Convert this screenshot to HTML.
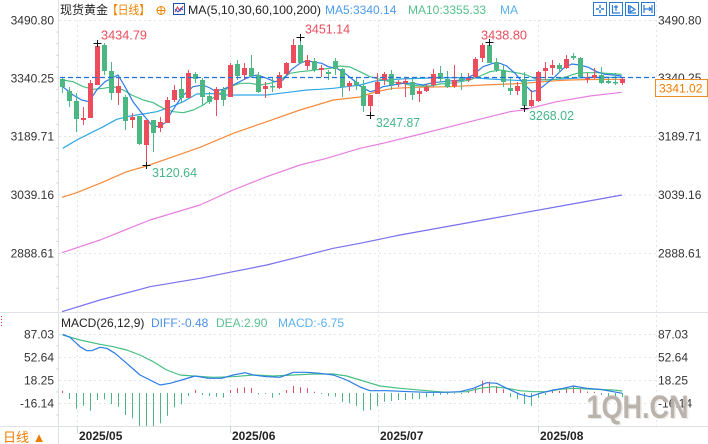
<!DOCTYPE html>
<html><head><meta charset="utf-8"><style>
html,body{margin:0;padding:0;background:#fff;width:708px;height:444px;overflow:hidden}
svg{display:block}
text{font-family:"Liberation Sans","Noto Sans CJK SC",sans-serif}
</style></head><body>
<svg width="708" height="444" viewBox="0 0 708 444" xmlns="http://www.w3.org/2000/svg">
<rect width="708" height="444" fill="#fff"/>
<!-- grid -->
<g stroke="#e2e5ea" stroke-width="1" stroke-dasharray="2,3" fill="none">
<path d="M59 20.5H656M59 136.5H656M59 195H656M59 253.5H656"/>
<path d="M59 334.5H656M59 357.5H656M59 380.5H656M59 403.5H656"/>
<path d="M77.5 20V426M230.5 20V426M378.5 20V426M538.5 20V426"/>
<path d="M656.5 0V426"/>
</g>
<path d="M58.5 0V444M0 312.5H708M0 426.5H708" stroke="#dfe3e8" stroke-width="1"/>
<path d="M77.5 426V433M230.5 426V433M378.5 426V433M538.5 426V433" stroke="#cfd4da"/>
<g stroke="#d5d9de">
<path d="M56 32.1H59M56 43.7H59M56 55.3H59M56 66.9H59M56 89.6H59M56 101.2H59M56 112.8H59M56 124.4H59M56 148.1H59M56 159.7H59M56 171.3H59M56 182.9H59M56 206.6H59M56 218.2H59M56 229.8H59M56 241.4H59M56 265H59M56 276.6H59M56 288.2H59M56 299.8H59"/>
<path d="M56 345.9H59M56 368.9H59M56 391.9H59M56 414.9H59"/>
</g>
<path d="M1.5 316V326" stroke="#e03030" stroke-dasharray="1,2"/>

<!-- moving averages -->
<g fill="none" stroke-width="1.2" stroke-linejoin="round">
<polyline stroke="#7a70f0" points="62,311.7 100,300 150,286.7 200,278.3 233,271.7 266.7,265 300,256.7 333.3,248.3 360,243.3 400,235 450,226 500,217 550,208 600,199 622,195"/>
<polyline stroke="#e77fde" points="62,252.7 100,240 150,220 200,205 233,190 266.7,176.7 300,165 326.7,158.3 360,148.3 383,143.3 416.7,135 450,126.7 483.3,118.3 510,111.7 523,110 556.7,101.7 590,96 621.7,92.3"/>
<polyline stroke="#f68a3a" points="62,197.3 76.7,192.7 100,183.3 126.7,171.7 146.7,166 173.3,156.7 200,147.3 233.3,133.3 266.7,121.7 300,110 316.7,105 333.3,100 360,97 375,92 393.3,88.3 416.7,87.3 450,86.7 483.3,85 510,84 523.3,83.3 556.7,80.7 570,80 590,79.5 621.7,79.3"/>
<polyline stroke="#2fa6e6" points="62.7,148.3 76.7,140 90,133.3 103.3,126.7 116.7,119.3 130,116 143.3,114 156.7,111.7 170,107.3 183.3,101.7 196.7,94 213.3,93.5 226.7,95 240,95 253.3,95 266.7,95 280,93.3 293.3,91.7 306.7,90 320,89.3 333.3,88.3 346.7,86.7 360,85 375,81 400,79 430,78 470,77.5 490,79 523,80.7 556.7,79.3 590,77.3 621.7,77.3"/>
<polyline stroke="#45bf82" points="62.7,80 73,81.7 83.3,86.7 93.3,89.3 103.3,88.3 113.3,86.7 123.3,90 131.7,95 143.3,100 153.3,102.7 163.3,108.3 173.3,111.7 183.3,112.7 193.3,110 203.3,105 210,100 220,93.3 230,86.7 240,83.3 250,83.3 260,85 270,83.3 280,80 290,73.3 300,71.7 310,70.7 320,69.3 330,68.3 340,66 350,67 360,71.7 370,76.7 380,79.3 390,81.7 400,82.7 410,85 420,86 430,86 440,84 450,83.3 460,81.7 470,80 480,76 490,71.7 500,70 510,71.7 520,73.3 526.7,75 536.7,79.3 546.7,80 556.7,79.3 566.7,76.7 576.7,73.3 586.7,72.7 596.7,72.7 606.7,73.3 621.7,74.3"/>
<polyline stroke="#2b7be6" points="62.7,86.7 73,95 81.7,100 89,101.7 96.7,90 105,81.7 118,75 125,86.7 133,101.7 141.7,113 151.7,125 158,126.7 165,123 171.7,111.7 181.7,96.7 193,86.7 202.7,85 210,88 215,91 223,89.3 233,85 243,80 251.7,76 258,75 266.7,78.3 275,81.7 283,80 291.7,69.3 300,63.3 306.7,60.7 315,62.3 321.7,63.3 328.3,66.7 336.7,68.3 345,73.3 353.3,80 360,86 370,91.7 376.7,90 383,86.7 393,85 403,83.3 413,83.3 423,85 433,82.7 443,81.7 453,80.7 463,80 473,75 483,66.7 493,63.3 500,63.3 506.7,66 515,73.3 523.3,83.3 531.7,91.7 538.3,90 546.7,83.3 555,76.7 563.3,68.3 571.7,64 580,65 588.3,67.3 596.7,71.7 605,74.3 613.3,75 621.7,76"/>
</g>

<!-- candles -->
<path stroke="#eb4d5c" stroke-width="1" fill="none" d="M83.5 107V125M90.5 80V118M97.5 43V85M118.5 77V105M132.5 113V128M146.5 120V165M160.5 117V132M167.5 97V123M174.5 85V102M188.5 70V98M216.5 87V116M230.5 63V97M244.5 63V80M265.5 82V98M279.5 72V89M286.5 62V75M293.5 39V63M307.5 55V70M321.5 65V77M349.5 81V91M370.5 95V115M377.5 73V94M384.5 72V85M398.5 80V87M405.5 78V97M419.5 88V102M426.5 84V92M433.5 69V87M454.5 65V88M468.5 73V82M475.5 57V78M482.5 43V62M517.5 82V95M531.5 90V107M538.5 71V102M545.5 62V80M552.5 60V75M566.5 55V69M587.5 73V83M594.5 68V79M622.5 78V85"/>
<path fill="#eb4d5c" d="M81 118h5v2h-5zM88 83h5v35h-5zM95 46h5v39h-5zM116 86h5v7h-5zM130 117h5v3h-5zM144 120h5v25h-5zM158 122h5v6h-5zM165 100h5v23h-5zM172 90h5v10h-5zM186 73h5v25h-5zM214 89h5v11h-5zM228 65h5v32h-5zM242 68h5v7h-5zM263 86h5v3h-5zM277 75h5v13h-5zM284 63h5v11h-5zM291 45h5v18h-5zM305 60h5v6h-5zM319 68h5v2h-5zM347 83h5v3h-5zM368 95h5v11h-5zM375 82h5v12h-5zM382 74h5v6h-5zM396 82h5v2h-5zM403 81h5v2h-5zM417 91h5v3h-5zM424 87h5v4h-5zM431 74h5v11h-5zM452 80h5v6h-5zM466 78h5v2h-5zM473 59h5v18h-5zM480 45h5v13h-5zM515 86h5v5h-5zM529 100h5v6h-5zM536 72h5v29h-5zM543 68h5v3h-5zM550 65h5v3h-5zM564 59h5v9h-5zM585 78h5v1.5h-5zM592 75h5v3h-5zM620 79h5v4h-5z"/>
<path stroke="#4cb783" stroke-width="1" fill="none" d="M62.5 77V93M69.5 87V107M76.5 93V132M104.5 43V75M111.5 62V100M125.5 95V130M139.5 116V145M153.5 120V152M181.5 78V103M195.5 72V83M202.5 78V105M209.5 92V104M223.5 87V106M237.5 60V80M251.5 55V78M258.5 72V93M272.5 77V92M300.5 37V63M314.5 58V72M328.5 70V80M335.5 58V75M342.5 68V97M356.5 78V90M363.5 80V112M391.5 70V90M412.5 78V100M440.5 66V82M447.5 71V88M461.5 73V90M489.5 42V63M496.5 58V72M503.5 65V87M510.5 78V95M524.5 72V108M559.5 63V73M573.5 53V60M580.5 57V78M601.5 67V84M608.5 78V84M615.5 73V85"/>
<path fill="#4cb783" d="M60 79h5v8h-5zM67 91h5v10h-5zM74 101h5v18h-5zM102 45h5v26h-5zM109 71h5v22h-5zM123 97h5v24h-5zM137 116h5v28h-5zM151 120h5v13h-5zM179 89h5v9h-5zM193 74h5v5h-5zM200 80h5v17h-5zM207 96h5v6h-5zM221 90h5v10h-5zM235 64h5v12h-5zM249 68h5v8h-5zM256 75h5v17h-5zM270 86h5v1.5h-5zM298 45h5v18h-5zM312 61h5v9h-5zM326 72h5v2h-5zM333 61h5v8h-5zM340 69h5v18h-5zM354 82h5v3h-5zM361 86h5v20h-5zM389 74h5v11h-5zM410 82h5v13h-5zM438 73h5v6h-5zM445 79h5v8h-5zM459 77h5v3h-5zM487 45h5v18h-5zM494 62h5v8h-5zM501 70h5v12h-5zM508 88h5v3h-5zM522 79h5v27h-5zM557 65h5v4h-5zM571 56h5v2h-5zM578 58h5v19h-5zM599 75h5v8h-5zM606 81h5v2h-5zM613 82h5v1.5h-5z"/>

<!-- current price dashed line -->
<path d="M60 77.5H655" stroke="#2070e0" stroke-width="1.3" stroke-dasharray="5,3"/>

<!-- high/low markers -->
<path stroke="#111" stroke-width="1" d="M93.5 43.5H101.5M97.5 40V47M296.5 37.5H304.5M300.5 34V41M485.5 42.5H493.5M489.5 39V46M142.5 165.5H150.5M146.5 162V169M366.5 115.5H374.5M370.5 112V119M520.5 108.5H528.5M524.5 105V112"/>
<g font-size="12.5">
<text x="101" y="39.5" fill="#eb4d5c" textLength="46" lengthAdjust="spacingAndGlyphs">3434.79</text>
<text x="305" y="33.5" fill="#eb4d5c" textLength="45" lengthAdjust="spacingAndGlyphs">3451.14</text>
<text x="481" y="39.5" fill="#eb4d5c" textLength="46" lengthAdjust="spacingAndGlyphs">3438.80</text>
<text x="152" y="177" fill="#46b58a" textLength="45" lengthAdjust="spacingAndGlyphs">3120.64</text>
<text x="376" y="127" fill="#46b58a" textLength="44" lengthAdjust="spacingAndGlyphs">3247.87</text>
<text x="529" y="120" fill="#46b58a" textLength="45" lengthAdjust="spacingAndGlyphs">3268.02</text>
</g>

<!-- axis labels -->
<g font-size="12" fill="#333">
<text x="54" y="24.5" text-anchor="end">3490.80</text>
<text x="54" y="82.5" text-anchor="end">3340.25</text>
<text x="54" y="140.5" text-anchor="end">3189.71</text>
<text x="54" y="199" text-anchor="end">3039.16</text>
<text x="54" y="257.5" text-anchor="end">2888.61</text>
<text x="658" y="24.5">3490.80</text>
<text x="658" y="82">3340.25</text>
<text x="658" y="140.5">3189.71</text>
<text x="658" y="199">3039.16</text>
<text x="658" y="257.5">2888.61</text>
<text x="54" y="338.5" text-anchor="end">87.03</text>
<text x="54" y="361.5" text-anchor="end">52.64</text>
<text x="54" y="384.5" text-anchor="end">18.25</text>
<text x="54" y="407.5" text-anchor="end">-16.14</text>
<text x="658" y="338.5">87.03</text>
<text x="658" y="361.5">52.64</text>
<text x="658" y="384.5">18.25</text>
<text x="658" y="407.5">-16.14</text>
</g>
<rect x="655.5" y="79.5" width="52" height="17" fill="#fff" stroke="#f08a24" stroke-width="1"/>
<text x="659" y="92.5" font-size="12" fill="#f07d00">3341.02</text>

<!-- header -->
<text x="60" y="14" font-size="12" fill="#222">现货黄金</text>
<text x="107" y="14" font-size="12" fill="#f08300" textLength="43" lengthAdjust="spacingAndGlyphs">【日线】</text>
<g stroke="#f08300" fill="none" stroke-width="1"><circle cx="161" cy="10.5" r="4"/><path d="M157 10.5H165M161 6.5V14.5"/></g>
<rect x="173.5" y="3.5" width="11" height="11" fill="#fff" stroke="#2050a8"/>
<polyline points="175,12 177.5,7 180,11 183,6" fill="none" stroke="#e03040" stroke-width="1"/>
<polyline points="175,9 178,12 181,8 183,10" fill="none" stroke="#2050d0" stroke-width="1"/>
<text x="188" y="14" font-size="12" fill="#222" textLength="133" lengthAdjust="spacingAndGlyphs">MA(5,10,30,60,100,200)</text>
<text x="325" y="14" font-size="12" fill="#4a9cf0">MA5:3340.14</text>
<text x="408" y="14" font-size="12" fill="#55c08a">MA10:3355.33</text>
<text x="500" y="14" font-size="12" fill="#5ab0ea">MA</text>

<!-- top-right tool icons -->
<g stroke="#2a7ad5" fill="none" stroke-width="1">
<rect x="593.5" y="2.5" width="13" height="13"/>
<rect x="609.5" y="2.5" width="13" height="13"/>
<rect x="625.5" y="2.5" width="13" height="13"/>
<rect x="641.5" y="2.5" width="13" height="13"/>
<path d="M600 5V8M600 10V13M596 9H599M601 9H604" stroke-width="1.4"/>
<path d="M612.5 5V13H620M616 5V11M614 7H618" stroke-width="1.2"/>
<path d="M628.5 5V13H636M630 6L635 9.5L630 12Z" stroke-width="1.2"/>
<path d="M644 5V13M644 9H651M649 7L651 9L649 11M652 5V13" stroke-width="1.2"/>
</g>

<!-- MACD histogram -->
<path stroke="#eb4d5c" stroke-width="1" d="M62.5 393V390.7M195.5 393V390M230.5 393V390M237.5 393V388.3M244.5 393V387.3M251.5 393V388M286.5 393V390M293.5 393V386M300.5 393V387.3M307.5 393V388.3M314.5 393V391.7M468.5 393V390.7M475.5 393V387.3M482.5 393V380.7M489.5 393V381.7M496.5 393V386M503.5 393V389.3M552.5 393V390.7M559.5 393V390.7M566.5 393V388.3M573.5 393V386M580.5 393V389.3M587.5 393V391.5M594.5 393V391.8"/>
<path stroke="#4cb783" stroke-width="1" d="M69.5 393V399M76.5 393V408.7M83.5 393V405.7M90.5 393V410.7M97.5 393V400M104.5 393V399.3M111.5 393V404M118.5 393V406.7M125.5 393V415M132.5 393V418.3M139.5 393V426M146.5 393V426M153.5 393V426M160.5 393V423.3M167.5 393V415.7M174.5 393V407.3M181.5 393V404.3M188.5 393V396M202.5 393V395M209.5 393V396M216.5 393V396.7M223.5 393V397.7M258.5 393V394.3M265.5 393V394M272.5 393V397.7M279.5 393V395M321.5 393V394M328.5 393V396M335.5 393V396.7M342.5 393V401.7M349.5 393V403.3M356.5 393V406M363.5 393V410.7M370.5 393V410M377.5 393V406M384.5 393V401.7M391.5 393V401M398.5 393V400M405.5 393V400M412.5 393V399.3M419.5 393V399.3M426.5 393V397.3M433.5 393V396M440.5 393V395M447.5 393V394.3M454.5 393V394M461.5 393V394M510.5 393V397.3M517.5 393V399.3M524.5 393V404M531.5 393V406M538.5 393V398.3M545.5 393V395M601.5 393V395M608.5 393V396M615.5 393V396.7M622.5 393V397.3"/>
<g fill="none" stroke-width="1.2" stroke-linejoin="round">
<polyline stroke="#45bf82" points="62.7,335 80,340 100,344.3 113.3,346.7 126.7,350 140,355 153.3,361.7 166.7,370 180,375 193.3,376 213.3,377.3 233.3,376.7 253.3,375 273.3,376 293.3,375 313.3,374 333.3,374 346.7,376 360,380 380,386 400,388.3 426.7,390.7 446.7,392.3 466.7,391.7 480,388.3 493.3,386.7 506.7,388.3 520,390.7 533.3,391.7 546.7,391.7 560,389.3 573.3,388.3 593.3,389.3 613.3,390 622.3,391"/>
<polyline stroke="#2b7be6" points="62.7,334.3 70,337.3 80,346.7 86.7,350.7 91.7,350.7 100,347.3 106.7,348.3 115,353.3 126.7,363.3 140,375 150,380 160,385 170,383.3 181.7,380 195,376 208.3,378.3 221.7,378.3 233.3,375 245,372.7 253.3,375 266.7,376.7 280,377.3 293.3,372.3 306.7,372.3 320,373.3 333.3,375 346.7,380 360,387 370,390.7 386.7,390.7 410,391.7 426.7,392.3 443.3,392.3 460,391.7 473.3,388.3 486.7,382.7 496.7,383.3 506.7,388.3 520,394.3 530,396.7 540,393.3 553.3,390 563.3,388.3 573.3,386 586.7,388.3 600,389.3 613.3,391.7 622.3,393.3"/>
</g>

<!-- MACD header -->
<text x="61" y="327" font-size="12" fill="#222">MACD(26,12,9)</text>
<text x="151" y="327" font-size="12" fill="#4a90e8">DIFF:-0.48</text>
<text x="216" y="327" font-size="12" fill="#5cc090">DEA:2.90</text>
<text x="278" y="327" font-size="12" fill="#5ab0ee">MACD:-6.75</text>

<!-- date labels -->
<g font-size="12" font-weight="bold" fill="#222">
<text x="79" y="440">2025/05</text>
<text x="232" y="440">2025/06</text>
<text x="380" y="440">2025/07</text>
<text x="540" y="440">2025/08</text>
</g>
<text x="3" y="442" font-size="13" fill="#f07c00">日线 ▲</text>

<!-- watermark -->
<text x="588" y="419" font-size="32" font-weight="bold" fill="#e8e4e0" fill-opacity="0.8" textLength="102" lengthAdjust="spacingAndGlyphs">1QH.CN</text>
<text x="586.5" y="418" font-size="32" font-weight="bold" fill="#b3aba4" fill-opacity="0.88" textLength="102" lengthAdjust="spacingAndGlyphs">1QH.CN</text>
</svg>
</body></html>
